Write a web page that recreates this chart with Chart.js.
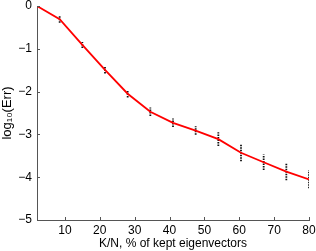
<!DOCTYPE html>
<html><head><meta charset="utf-8">
<script src="https://cdn.jsdelivr.net/npm/chart.js@4/dist/chart.umd.min.js"></script>
<style>html,body{margin:0;padding:0;background:#fff}#w{width:316px;height:251px}</style>
</head><body><div id="w"><canvas id="c"></canvas></div>
<script>
const kept = [2, 8.5, 15, 21.5, 28, 34.5, 41, 47.5, 54, 60.5, 67, 73.5, 80];
const logErr = [0, -0.31, -0.91, -1.49, -2.05, -2.47, -2.73, -2.91, -3.11, -3.43, -3.65, -3.87, -4.05];
const spreadLow = [0, -0.39, -0.98, -1.58, -2.14, -2.57, -2.83, -3.01, -3.27, -3.63, -3.83, -4.07, -4.26];
const spreadHigh = [0, -0.23, -0.84, -1.40, -1.96, -2.37, -2.63, -2.81, -2.95, -3.23, -3.47, -3.67, -3.84];
const xTicks = [10, 20, 30, 40, 50, 60, 70, 80];
const yTicks = [0, -1, -2, -3, -4, -5];

const errPts = [];
kept.forEach((k, i) => {
  if (i === 0) return;
  errPts.push({x: k, y: spreadLow[i]}, {x: k, y: spreadHigh[i]}, {x: k, y: null});
});

const inwardTicks = {
  id: 'inwardTicks',
  afterDatasetsDraw(chart) {
    const {ctx, chartArea: a, scales: {x, y}} = chart;
    ctx.save();
    ctx.strokeStyle = '#555';
    ctx.lineWidth = 1;
    ctx.beginPath();
    xTicks.forEach(v => { const px = Math.round(x.getPixelForValue(v)) + 0.5; ctx.moveTo(px, a.bottom); ctx.lineTo(px, a.bottom - 3); });
    yTicks.forEach(v => { const py = Math.round(y.getPixelForValue(v)) + 0.5; ctx.moveTo(a.left, py); ctx.lineTo(a.left + 3, py); });
    ctx.stroke();
    ctx.restore();
  }
};

new Chart(document.getElementById('c'), {
  type: 'line',
  data: {
    datasets: [
      {data: kept.map((k, i) => ({x: k, y: logErr[i]})), borderColor: '#ff0000', borderWidth: 1.8, pointRadius: 0, tension: 0, order: 0},
      {data: errPts, borderColor: '#111', borderWidth: 1.8, borderDash: [1.5, 1], pointRadius: 0, spanGaps: false, order: 1}
    ]
  },
  options: {
    responsive: true, maintainAspectRatio: false, animation: false,
    layout: {padding: {left: 0, right: 7, top: 6, bottom: 0}},
    plugins: {legend: {display: false}, tooltip: {enabled: false}},
    scales: {
      x: {
        type: 'linear', min: 2, max: 80,
        afterBuildTicks: s => { s.ticks = xTicks.map(v => ({value: v})); },
        afterFit: s => { s.height = 31; s.paddingLeft = 0; s.paddingRight = 0; },
        grid: {display: false, drawTicks: false},
        border: {display: true, color: '#555', width: 1},
        ticks: {color: '#000', font: {family: 'Liberation Sans', size: 12}, padding: 3, maxRotation: 0},
        title: {display: true, text: 'K/N, % of kept eigenvectors', color: '#000', font: {family: 'Liberation Sans', size: 12}, padding: 0}
      },
      y: {
        type: 'linear', min: -5, max: 0,
        afterBuildTicks: s => { s.ticks = yTicks.map(v => ({value: v})); },
        afterFit: s => { s.width = 37; s.paddingTop = 0; s.paddingBottom = 0; },
        grid: {display: false, drawTicks: false},
        border: {display: true, color: '#555', width: 1},
        ticks: {color: '#000', font: {family: 'Liberation Sans', size: 12}, padding: 5,
          callback: v => v < 0 ? '\u2212' + Math.abs(v) : String(v)},
        title: {display: true, text: 'log\u2081\u2080(Err)', color: '#000', font: {family: 'Liberation Sans', size: 13}, padding: 0}
      }
    }
  },
  plugins: [inwardTicks]
});
</script></body></html>
